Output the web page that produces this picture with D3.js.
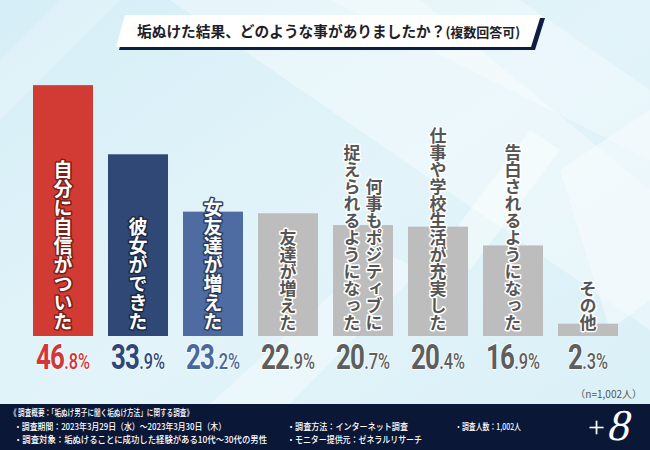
<!DOCTYPE html>
<html><head><meta charset="utf-8">
<script src="https://cdn.jsdelivr.net/npm/d3@7"></script>
<style>
html,body{margin:0;padding:0;background:#fff;}
svg{display:block;}
</style></head>
<body><svg id="c" width="650" height="450"></svg>
<script>
// ---- data ----
const categories = ["自分に自信がついた","彼女ができた","女友達が増えた","友達が増えた","何事もポジティブに\n捉えられるようになった","仕事や学校生活が充実した","告白されるようになった","その他"];
const values = [46.8,33.9,23.2,22.9,20.7,20.4,16.9,2.3];
const barColors = ["#d23a34","#2f4876","#4e6ca1","#bdbdbd","#bdbdbd","#bdbdbd","#bdbdbd","#bdbdbd"];
const valueColors = ["#d03839","#2f4877","#4a68a0","#5e5e5e","#5e5e5e","#5e5e5e","#5e5e5e","#5e5e5e"];
const titleMain = "垢ぬけた結果、どのような事がありましたか？";
const titleSub = "(複数回答可)";
const sampleNote = "（n=1,002人）";
const footerLines = [
  {col:0,row:0,len:183,text:"《 調査概要：「垢ぬけ男子に聞く垢ぬけ方法」に関する調査》"},
  {col:0,row:1,len:212,text:"・調査期間：2023年3月29日（水）～2023年3月30日（木）"},
  {col:0,row:2,len:253,text:"・調査対象：垢ぬけることに成功した経験がある10代～30代の男性"},
  {col:1,row:1,len:121,text:"・調査方法：インターネット調査"},
  {col:1,row:2,len:135,text:"・モニター提供元：ゼネラルリサーチ"},
  {col:2,row:1,len:66,text:"・調査人数：1,002人"}
];

const svg = d3.select("#c");
const JP = "'Noto Sans CJK JP','Noto Sans CJK SC',sans-serif";

// ---- background ----
const defs = svg.append("defs");
const g1 = defs.append("linearGradient").attr("id","bg").attr("x1","0").attr("y1","0").attr("x2","1").attr("y2","1");
g1.append("stop").attr("offset","0").attr("stop-color","#d6eef7");
g1.append("stop").attr("offset","0.5").attr("stop-color","#e2f4f9");
g1.append("stop").attr("offset","1").attr("stop-color","#d9f0f7");
svg.append("rect").attr("width",650).attr("height",450).attr("fill","url(#bg)");
const shapes = [
  [[170,0],[420,0],[650,190],[650,330]],
  [[330,0],[520,0],[650,90],[650,160]],
  [[560,170],[650,110],[650,300],[610,330]],
  [[440,250],[530,130],[560,150],[470,270]],
  [[210,404],[380,250],[420,270],[290,404]],
  [[0,60],[60,0],[120,0],[0,120]]
];
svg.append("g").selectAll("polygon").data(shapes).join("polygon")
  .attr("points",d=>d.map(p=>p.join(",")).join(" "))
  .attr("fill","#ffffff").attr("opacity",(d,i)=>[0.35,0.3,0.4,0.45,0.35,0.2][i]);

// ---- title banner ----
svg.append("polygon").attr("points","128,18 545,18 535,50 119,50").attr("fill","#0f1d3f");
svg.append("polygon").attr("points","125,15 541,15 531,47 116,47").attr("fill","#ffffff");
const tt = svg.append("text").attr("x",137).attr("y",37)
  .attr("font-family",JP).attr("font-weight",700).attr("fill","#1e1e2a");
tt.append("tspan").attr("font-size",14.7).text(titleMain);
tt.append("tspan").attr("font-size",13).text(titleSub);

// ---- scales ----
const x = d3.scaleBand().domain(categories).range([25.5,625.5]).paddingInner(0.2).paddingOuter(0.1);
const y = d3.scaleLinear().domain([0,50]).range([336,68]);

// ---- bars ----
svg.append("g").selectAll("rect").data(categories).join("rect")
  .attr("x",d=>x(d)).attr("width",x.bandwidth())
  .attr("y",(d,i)=>y(values[i])).attr("height",(d,i)=>y(0)-y(values[i]))
  .attr("fill",(d,i)=>barColors[i]);

// ---- vertical labels ----
const lab = svg.append("g");
categories.forEach((c,i)=>{
  const cols = c.split("\n");
  const cx = x(c)+x.bandwidth()/2;
  const colored = i<3;
  const fs = colored?19:17;
  cols.forEach((t,j)=>{
    const off = cols.length===1?0:(j===0?11:-11);
    lab.append("text")
      .attr("x",cx+off).attr("y",331)
      .attr("writing-mode","vertical-rl")
      .attr("text-anchor","end")
      .attr("font-family",JP).attr("font-weight",700).attr("font-size",fs)
      .attr("fill",colored?"#ffffff":"#555555")
      .attr("stroke",colored?d3.color(barColors[i]).darker(1.6):"#ffffff")
      .attr("stroke-width",3)
      .attr("stroke-linejoin","round")
      .attr("paint-order","stroke")
      .text(t);
  });
});

// ---- value labels ----
const NUM = "'Roboto','Liberation Sans',sans-serif";
categories.forEach((c,i)=>{
  const s = values[i].toFixed(1);
  const [ip,dp] = s.split(".");
  const t = svg.append("text")
    .attr("transform",`translate(${x(c)+x.bandwidth()/2},369) scale(0.74,1)`)
    .attr("text-anchor","middle").attr("font-family",NUM).attr("font-weight",700)
    .attr("fill",valueColors[i]).attr("stroke","#ffffff").attr("stroke-width",1.5).attr("paint-order","stroke");
  t.append("tspan").attr("font-size",35).attr("letter-spacing",-1).text(ip);
  t.append("tspan").attr("font-size",22).attr("font-weight",500).text("."+dp+"%");
});

// ---- n note ----
svg.append("text").attr("x",642).attr("y",398).attr("text-anchor","end")
  .attr("font-family",JP).attr("font-size",10).attr("fill","#555").text(sampleNote);

// ---- footer ----
svg.append("rect").attr("x",0).attr("y",404).attr("width",650).attr("height",46).attr("fill","#0b1737");
const colX = [10,287,455];
const rowY = [416,429.5,443];
svg.append("g").selectAll("text").data(footerLines).join("text")
  .attr("x",d=>colX[d.col]+(d.row>0&&d.col===0?4:0)).attr("y",d=>rowY[d.row])
  .attr("font-family",JP).attr("font-size",9.2).attr("font-weight",500).attr("fill","#ffffff")
  .attr("textLength",d=>d.len).attr("lengthAdjust","spacingAndGlyphs")
  .text(d=>d.text);
// logo
svg.append("text").attr("x",588).attr("y",437).attr("font-family","'Liberation Serif',serif")
  .attr("font-size",30).attr("fill","#fff").text("+");
svg.append("text").attr("transform","translate(606,440) skewX(-14)").attr("font-family","'Liberation Serif',serif")
  .attr("font-size",44).attr("fill","#fff").text("8");
</script></body></html>
